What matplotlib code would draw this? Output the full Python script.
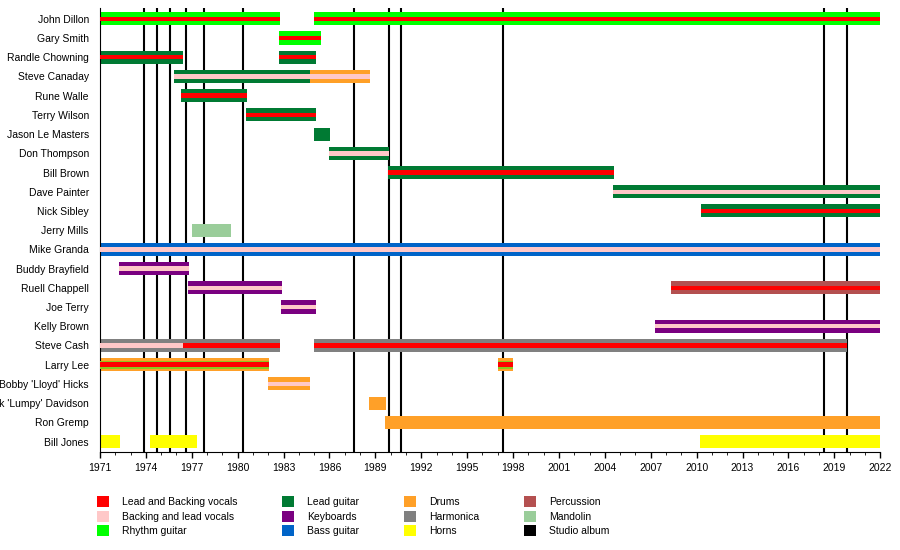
import matplotlib
matplotlib.use("Agg")
import matplotlib.pyplot as plt
from matplotlib.patches import Patch

members = ["John Dillon", "Gary Smith", "Randle Chowning", "Steve Canaday", "Rune Walle",
           "Terry Wilson", "Jason Le Masters", "Don Thompson", "Bill Brown", "Dave Painter",
           "Nick Sibley", "Jerry Mills", "Mike Granda", "Buddy Brayfield", "Ruell Chappell",
           "Joe Terry", "Kelly Brown", "Steve Cash", "Larry Lee", "Bobby 'Lloyd' Hicks",
           "Rick 'Lumpy' Davidson", "Ron Gremp", "Bill Jones"]

# (member, start, end, instrument, vocal stripe)
segments = [
    ("John Dillon", 1971.0, 1982.8, "Rhythm guitar", "Lead and Backing vocals"),
    ("John Dillon", 1985.0, 2022.0, "Rhythm guitar", "Lead and Backing vocals"),
    ("Gary Smith", 1982.7, 1985.45, "Rhythm guitar", "Lead and Backing vocals"),
    ("Randle Chowning", 1971.0, 1976.4, "Lead guitar", "Lead and Backing vocals"),
    ("Randle Chowning", 1982.7, 1985.1, "Lead guitar", "Lead and Backing vocals"),
    ("Steve Canaday", 1975.85, 1984.7, "Lead guitar", "Backing and lead vocals"),
    ("Steve Canaday", 1984.7, 1988.65, "Drums", "Backing and lead vocals"),
    ("Rune Walle", 1976.3, 1980.6, "Lead guitar", "Lead and Backing vocals"),
    ("Terry Wilson", 1980.55, 1985.1, "Lead guitar", "Lead and Backing vocals"),
    ("Jason Le Masters", 1985.0, 1986.05, "Lead guitar", None),
    ("Don Thompson", 1986.0, 1989.9, "Lead guitar", "Backing and lead vocals"),
    ("Bill Brown", 1989.8, 2004.6, "Lead guitar", "Lead and Backing vocals"),
    ("Dave Painter", 2004.55, 2022.0, "Lead guitar", "Backing and lead vocals"),
    ("Nick Sibley", 2010.3, 2022.0, "Lead guitar", "Lead and Backing vocals"),
    ("Jerry Mills", 1977.0, 1979.6, "Mandolin", None),
    ("Mike Granda", 1971.0, 2022.0, "Bass guitar", "Backing and lead vocals"),
    ("Buddy Brayfield", 1972.25, 1976.8, "Keyboards", "Backing and lead vocals"),
    ("Ruell Chappell", 1976.75, 1982.9, "Keyboards", "Backing and lead vocals"),
    ("Ruell Chappell", 2008.35, 2022.0, "Percussion", "Lead and Backing vocals"),
    ("Joe Terry", 1982.85, 1985.1, "Keyboards", "Backing and lead vocals"),
    ("Kelly Brown", 2007.3, 2022.0, "Keyboards", "Backing and lead vocals"),
    ("Steve Cash", 1971.0, 1976.4, "Harmonica", "Backing and lead vocals"),
    ("Steve Cash", 1976.4, 1982.8, "Harmonica", "Lead and Backing vocals"),
    ("Steve Cash", 1985.0, 2019.85, "Harmonica", "Lead and Backing vocals"),
    ("Larry Lee", 1971.0, 1982.05, "Drums", "Lead and Backing vocals"),
    ("Larry Lee", 1997.0, 1998.0, "Drums", "Lead and Backing vocals"),
    ("Bobby 'Lloyd' Hicks", 1982.0, 1984.75, "Drums", "Backing and lead vocals"),
    ("Rick 'Lumpy' Davidson", 1988.6, 1989.7, "Drums", None),
    ("Ron Gremp", 1989.65, 2022.0, "Drums", None),
    ("Bill Jones", 1971.0, 1972.3, "Horns", None),
    ("Bill Jones", 1974.3, 1977.35, "Horns", None),
    ("Bill Jones", 2010.25, 2022.0, "Horns", None),
]

albums = [1973.9, 1974.7, 1975.6, 1976.6, 1977.8, 1980.35, 1987.6, 1989.9, 1990.7,
          1997.35, 2018.3, 2019.85]

legend_labels = ["Lead and Backing vocals", "Backing and lead vocals", "Rhythm guitar",
                 "Lead guitar", "Keyboards", "Bass guitar",
                 "Drums", "Harmonica", "Horns",
                 "Percussion", "Mandolin", "Studio album"]
legend_colors = ["#ff0000", "#ffc8c8", "#00ff00",
                 "#007a33", "#7a0080", "#0064c8",
                 "#ffa028", "#808080", "#ffff00",
                 "#b45050", "#9acd9a", "#000000"]
cmap = dict(zip(legend_labels, legend_colors))

fig = plt.figure(figsize=(9, 5.5), dpi=100)
ax = fig.add_axes([0.111, 0.178, 0.867, 0.807])

ypos = {m: i for i, m in enumerate(members)}
h = 0.68
for m, s, e, inst, voc in segments:
    y = ypos[m]
    ax.barh(y, e - s, left=s, height=h, color=cmap[inst], zorder=2, linewidth=0)
    if m == "Larry Lee":
        ax.barh(y, e - s, left=s, height=h * 0.6, color="#8cc81e", zorder=3, linewidth=0)
    if voc:
        ax.barh(y, e - s, left=s, height=h * 0.34, color=cmap[voc], zorder=4, linewidth=0)

for a in albums:
    ax.axvline(a, color="black", lw=1.5, zorder=1)

ax.set_xlim(1971, 2022)
ax.set_ylim(len(members) - 0.45, -0.55)
ax.set_yticks(range(len(members)))
ax.set_yticklabels(members, fontsize=7.5, family="Liberation Sans")
ax.tick_params(axis="y", length=0, pad=8)
ax.set_xticks(list(range(1971, 2023, 3)))
ax.set_xticks(list(range(1971, 2023)), minor=True)
ax.tick_params(axis="x", labelsize=7.5, length=4, width=1)
ax.tick_params(axis="x", which="minor", length=2)
for lab in ax.get_xticklabels():
    lab.set_family("Liberation Sans")
for sp in ["top", "right"]:
    ax.spines[sp].set_visible(False)

handles = [Patch(facecolor=c, edgecolor="none") for c in legend_colors]
fig.legend(handles, legend_labels, loc="lower left", bbox_to_anchor=(0.097, 0.008), ncol=4,
           frameon=False, prop={"family": "Liberation Sans", "size": 7.5},
           handlelength=1.2, handleheight=1.2, columnspacing=4.3, labelspacing=0.35,
           handletextpad=1.2)

fig.savefig("out.png", dpi=100)
